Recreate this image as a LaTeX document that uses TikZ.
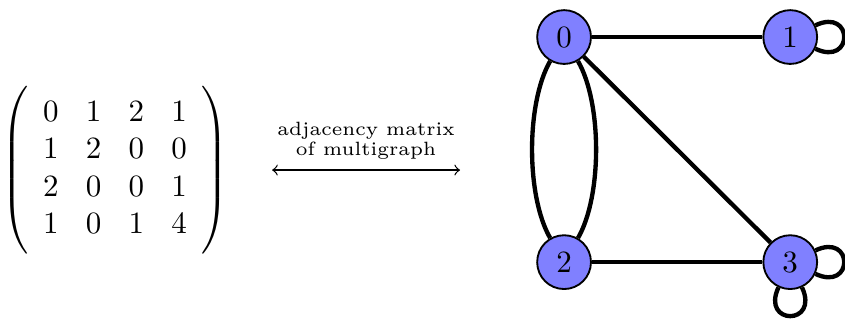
\documentclass[tikz,border=0pt]{standalone}
\usepackage{amsmath}
\begin{document}
\begin{tikzpicture}[vertex/.style={circle,minimum size=.61cm,inner sep=0pt,draw,fill=blue!50,semithick},
  edge/.style={line width=1.4pt},
  selfloop/.style={loop,looseness=1,min distance=4.8mm}]
  \useasboundingbox (0,0) rectangle (9.58,3.652);
  \draw(1.304,1.724) node (M) {$\setlength\arraycolsep{4.4pt}\left(\rule[-26.5pt]{0pt}{58pt}\hspace{4.8pt}\begin{array}{@{}cccc@{}} 0&1&2&1\\ 1&2&0&0\\ 2&0&0&1\\ 1&0&1&4 \end{array}\hspace{4.8pt}\right)$};
  \coordinate (L) at (3.085,1.724);
  \coordinate (R) at (5.216,1.724);
  \draw[<->] (L) -- (R) node[midway,above,align=center,font=\fontsize{6.2}{6.5}\selectfont] (T) {adjacency matrix\\of multigraph};
  \draw(6.395,3.232) node[vertex] (V0) {0};
  \draw(8.959,3.232) node[vertex] (V1) {1};
  \draw(6.395,0.680) node[vertex] (V2) {2};
  \draw(8.959,0.680) node[vertex] (V3) {3};
  \draw[edge] (V0) -- (V1);
  \draw[edge] (V0) to[bend right=30,looseness=.7] (V2);
  \draw[edge] (V0) to[bend left=30,looseness=.7] (V2);
  \draw[edge] (V0) -- (V3);
  \draw[edge] (V2) -- (V3);
  \draw[edge] (V1) to[selfloop,out=25,in=-25] (V1);
  \draw[edge] (V3) to[selfloop,out=25,in=-25] (V3);
  \draw[edge] (V3) to[selfloop,out=-65,in=-115] (V3);
\end{tikzpicture}
\end{document}
